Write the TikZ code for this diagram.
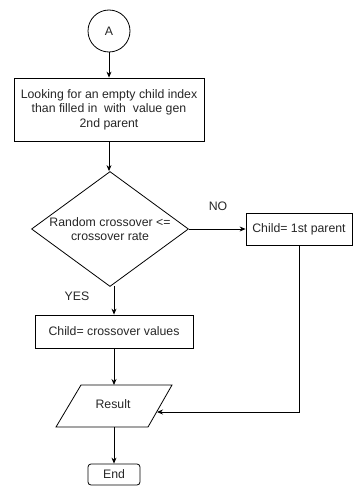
\documentclass[tikz,border=0pt]{standalone}
\usepackage{fontspec}
\setmainfont{Liberation Sans}
\usetikzlibrary{shapes.geometric,arrows.meta}
\begin{document}
\begin{tikzpicture}[x=1pt,y=-1pt,
  every node/.style={font=\fontsize{12.3}{14.5}\selectfont, inner sep=0pt, text=black!85},
  box/.style={draw, line width=0.8pt, rectangle, align=center},
  arr/.style={line width=0.8pt, -{Stealth[length=6pt,width=5pt]}},
  ln/.style={line width=0.8pt}]
\useasboundingbox (0,0) rectangle (354,487);
\node[draw, line width=0.8pt, circle, minimum size=42pt] (a) at (109,31) {A};
\node[box, minimum width=190pt, minimum height=63pt] (r1) at (109,109.5)
  {Looking for an empty child index\\than filled in \ with \ value gen\\2nd parent};
\node[draw, line width=0.8pt, diamond, minimum width=157pt, minimum height=115pt,
  label={[align=center, font=\fontsize{12.3}{13.5}\selectfont, text=black!85]center:Random crossover <=\\crossover rate}] (d) at (110,229) {};
\node[box, minimum width=106pt, minimum height=32pt] (c1) at (299,229) {Child= 1st parent};
\node[box, minimum width=158pt, minimum height=33pt] (c2) at (114,331.5) {Child= crossover values};
\draw[ln] (81,385) -- (172,385) -- (148,427) -- (56,427) -- cycle;
\node (res) at (113,404) {Result};
\coordinate (ptop) at (114,385);
\coordinate (pbot) at (114,427);
\coordinate (pr) at (157,412);
\node[draw, line width=0.8pt, rounded corners=3pt, minimum width=52pt, minimum height=21pt] (e) at (114,474.5) {End};
\node (no) at (218,206) {NO};
\node (yes) at (77,296) {YES};
\draw[arr] (a.south) -- (r1.north);
\draw[arr] (r1.south) -- (r1.south |- d.north);
\draw[arr] (d.east) -- (c1.west);
\draw[arr] (114,286) -- (c2.north);
\draw[arr] (c2.south) -- (ptop);
\draw[arr] (c1.south) |- (pr);
\draw[arr] (pbot) -- (e.north);
\end{tikzpicture}
\end{document}
